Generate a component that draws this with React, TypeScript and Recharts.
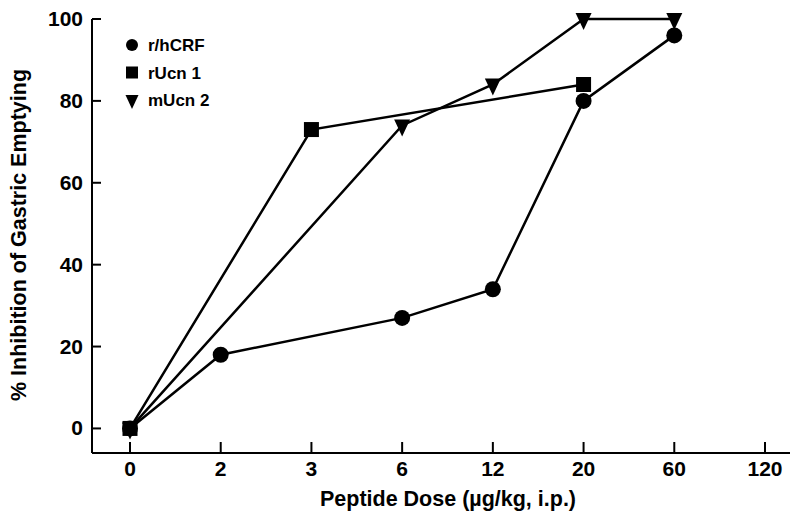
import { Line, LineChart, XAxis, YAxis } from "recharts";

const doses = ["0", "2", "3", "6", "12", "20", "60", "120"];
const crf = [0, 18, null, 27, 34, 80, 96, null];
const ucn1 = [0, null, 73, null, null, 84, null, null];
const ucn2 = [0, null, null, 74, 84, 100, 100, null];
const yTicks = [0, 20, 40, 60, 80, 100];

const FONT = '"Liberation Sans", Arial, Helvetica, sans-serif';
const INK = "#000";

const data = doses.map((d, i) => ({ dose: d, crf: crf[i], ucn1: ucn1[i], ucn2: ucn2[i] }));

function CircleDot({ cx, cy, size = 8 }: any) {
  if (cx == null || cy == null) return null;
  return <circle cx={cx} cy={cy} r={size} fill={INK} />;
}

function SquareDot({ cx, cy, size = 15 }: any) {
  if (cx == null || cy == null) return null;
  return <rect x={cx - size / 2} y={cy - size / 2} width={size} height={size} fill={INK} />;
}

function TriDot({ cx, cy, w = 16, up = 6, down = 11 }: any) {
  if (cx == null || cy == null) return null;
  return <path d={`M${cx - w / 2},${cy - up} L${cx + w / 2},${cy - up} L${cx},${cy + down} Z`} fill={INK} />;
}

function XTick({ x, y, payload }: any) {
  return (
    <g>
      <line x1={x} y1={y} x2={x} y2={y - 11} stroke={INK} strokeWidth={2} />
      <text x={x} y={y + 23} textAnchor="middle" fontFamily={FONT} fontWeight="bold" fontSize={21} fill={INK}>
        {payload.value}
      </text>
    </g>
  );
}

function YTick({ x, y, payload }: any) {
  return (
    <g>
      <line x1={x} y1={y} x2={x + 9} y2={y} stroke={INK} strokeWidth={2} />
      <text x={x - 9} y={y + 7} textAnchor="end" fontFamily={FONT} fontWeight="bold" fontSize={21} fill={INK}>
        {payload.value}
      </text>
    </g>
  );
}

function XTitle() {
  return (
    <text x={448} y={506} textAnchor="middle" fontFamily={FONT} fontWeight="bold" fontSize={21.5} fill={INK}>
      Peptide Dose (µg/kg, i.p.)
    </text>
  );
}

function YTitle() {
  return (
    <text
      x={0}
      y={0}
      transform="translate(26 235) rotate(-90)"
      textAnchor="middle"
      fontFamily={FONT}
      fontWeight="bold"
      fontSize={21.5}
      fill={INK}
    >
      % Inhibition of Gastric Emptying
    </text>
  );
}

const legendItems = [
  { label: "r/hCRF", shape: "circle" },
  { label: "rUcn 1", shape: "square" },
  { label: "mUcn 2", shape: "triangle" },
];

function LegendBox() {
  return (
    <svg width={120} height={90} style={{ position: "absolute", left: 121, top: 33 }}>
      {legendItems.map((it, i) => {
        const cy = 12 + i * 27.5;
        return (
          <g key={it.label}>
            {it.shape === "circle" && <CircleDot cx={11} cy={cy} size={6} />}
            {it.shape === "square" && <SquareDot cx={11} cy={cy} size={12} />}
            {it.shape === "triangle" && <TriDot cx={11} cy={cy + 1} w={13} up={6} down={8} />}
            <text x={27} y={cy + 6} fontFamily={FONT} fontWeight="bold" fontSize={17} fill={INK}>
              {it.label}
            </text>
          </g>
        );
      })}
    </svg>
  );
}

export default function App() {
  return (
    <div style={{ position: "absolute", left: 0, top: 0, width: 800, height: 528, background: "#fff" }}>
      <LineChart width={800} height={528} data={data} margin={{ top: 19, right: 10, bottom: 0, left: 12 }}>
        <XAxis
          dataKey="dose"
          type="category"
          padding={{ left: 38, right: 25 }}
          axisLine={{ stroke: INK, strokeWidth: 2 }}
          tickLine={false}
          tickSize={0}
          tickMargin={0}
          tick={<XTick />}
          interval={0}
          height={75}
          label={<XTitle />}
        />
        <YAxis
          type="number"
          domain={[-6, 100]}
          ticks={yTicks}
          width={80}
          axisLine={{ stroke: INK, strokeWidth: 2 }}
          tickLine={false}
          tickSize={0}
          tickMargin={0}
          tick={<YTick />}
          interval={0}
          label={<YTitle />}
        />
        <Line
          dataKey="crf"
          stroke={INK}
          strokeWidth={2.5}
          connectNulls
          dot={<CircleDot />}
          activeDot={false}
          isAnimationActive={false}
        />
        <Line
          dataKey="ucn2"
          stroke={INK}
          strokeWidth={2.5}
          connectNulls
          dot={<TriDot />}
          activeDot={false}
          isAnimationActive={false}
        />
        <Line
          dataKey="ucn1"
          stroke={INK}
          strokeWidth={2.5}
          connectNulls
          dot={<SquareDot />}
          activeDot={false}
          isAnimationActive={false}
        />
      </LineChart>
      <LegendBox />
    </div>
  );
}
